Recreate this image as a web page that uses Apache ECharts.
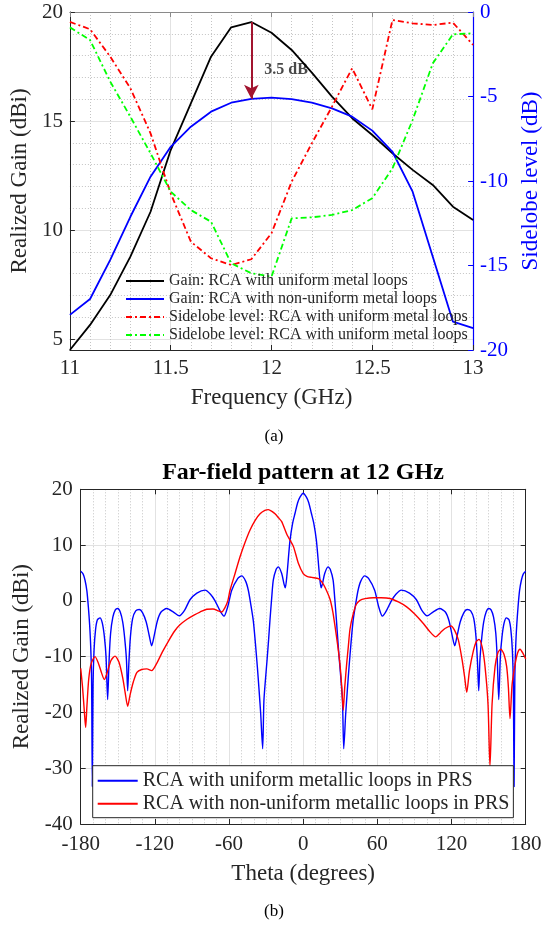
<!DOCTYPE html>
<html>
<head>
<meta charset="utf-8">
<script src="https://cdn.jsdelivr.net/npm/echarts@6/dist/echarts.min.js"></script>
<style>
  html, body { margin: 0; padding: 0; background: #fff; }
  #chart { width: 550px; height: 927px; }
</style>
</head>
<body>
<div id="chart"></div>
<script>
// ---- (a) realized gain and sidelobe level versus frequency ----
const freqGHz = [11, 11.1, 11.2, 11.3, 11.4, 11.5, 11.6, 11.7, 11.8, 11.9, 12,
                 12.1, 12.2, 12.3, 12.4, 12.5, 12.6, 12.7, 12.8, 12.9, 13];
const gainUniform = [4.5, 5.65, 7.02, 8.78, 10.84, 13.67, 15.81, 17.95, 19.30, 19.54, 19.05,
                     18.26, 17.22, 16.12, 15.13, 14.36, 13.52, 12.76, 12.07, 11.07, 10.46];
const gainNonUniform = [6.11, 6.84, 8.63, 10.61, 12.45, 13.82, 14.74, 15.43, 15.84, 16.02, 16.07,
                        16.0, 15.84, 15.58, 15.20, 14.56, 13.59, 11.76, 8.78, 5.80, 5.50];
const sidelobeRed = [-0.59, -1.02, -2.64, -4.51, -7.18, -10.73, -13.59, -14.57, -14.97, -14.63, -13.09,
                     -10.04, -7.77, -5.60, -3.33, -5.76, -0.47, -0.67, -0.77, -0.63, -1.95];
const sidelobeGreen = [-0.91, -1.66, -4.12, -6.20, -8.36, -10.63, -11.72, -12.41, -14.87, -15.46, -15.66,
                       -12.21, -12.15, -12.01, -11.72, -11.02, -9.25, -6.39, -3.04, -1.32, -1.26];
const arrowIndex = 9; // 11.9 GHz, where the gain drop is marked

// ---- (b) far-field pattern at 12 GHz ----
const thetaUniform = [-180, -178, -176.5, -175, -173.8, -172.8, -171.9, -171.2, -170.6, -170, -169.2, -168, -166.5,
  -164.4, -162.5, -160.8, -159.5, -158.2, -157, -155.8, -154, -152, -150.1, -148, -146, -144.5, -143, -142,
  -141, -139.8, -138, -135.5, -132.6, -130, -127, -124.5, -122.6, -120.5, -118, -115, -110.4, -105, -100.2,
  -96, -91.6, -86, -79.4, -75, -71.3, -67, -64.1, -61, -57.8, -53, -49.8, -46.5, -44.4, -42.5, -40.4, -38.7,
  -37.1, -35.7, -34.4, -32.8, -31.8, -30.5, -29.2, -28, -26.9, -25.5, -24.2, -22, -20.1, -17.4, -15.5, -14.5,
  -13.2, -10.7, -8.5, -6.6, -4.5, -2.6, 0,
  2.6, 4.5, 6.6, 8.5, 10.7, 13.2, 14.5, 15.5, 17.4, 20.1, 22, 24.2, 25.5, 26.9, 28, 29.2, 30.5, 31.8, 32.8,
  34.4, 35.7, 37.1, 38.7, 40.4, 42.5, 44.4, 46.5, 49.8, 53, 57.8, 61, 64.1, 67, 71.3, 75, 79.4, 86, 91.6, 96,
  100.2, 105, 110.4, 115, 118, 120.5, 122.6, 124.5, 127, 130, 132.6, 135.5, 138, 139.8, 141, 142, 143, 144.5,
  146, 148, 150.1, 152, 154, 155.8, 157, 158.2, 159.5, 160.8, 162.5, 164.4, 166.5, 168, 169.2, 170, 170.6,
  171.2, 171.9, 172.8, 173.8, 175, 176.5, 178, 180];
const patternUniform = [5.3, 4.8, 3.7, 1.8, -1.1, -4.2, -8.2, -14, -33.3, -15, -8.8, -5.2, -3.4,
  -3.05, -4.0, -6.5, -10, -17.7, -10.5, -5.8, -2.9, -1.6, -1.37, -2.0, -3.8, -6.5, -10.5, -16.1,
  -11, -6.5, -3.2, -1.8, -1.55, -2.1, -3.8, -6.3, -8.06, -6.2, -3.6, -2.0, -1.37, -2.0, -2.68,
  -1.7, 0.2, 1.4, 1.92, 1.2, 0.0, -1.9, -2.74, -1.0, 1.9, 4.0, 4.48, 3.5, 1.9, -0.5, -3.5, -7.5,
  -11.8, -16, -20.2, -26.5, -18, -14, -10.5, -7, -3.5, 0.5, 3.7, 5.6, 6.1, 4.9, 3.0, 2.33,
  4.5, 10.8, 14.0, 15.7, 17.6, 18.6, 19.3,
  18.6, 17.6, 15.7, 14.0, 10.8, 4.5, 2.33, 3.0, 4.9, 6.1, 5.6, 3.7, 0.5, -3.5, -7, -10.5, -14, -18, -26.5,
  -20.2, -16, -11.8, -7.5, -3.5, -0.5, 1.9, 3.5, 4.48, 4.0, 1.9, -1.0, -2.74, -1.9, 0.0, 1.2, 1.92, 1.4, 0.2, -1.7,
  -2.68, -2.0, -1.37, -2.0, -3.6, -6.2, -8.06, -6.3, -3.8, -2.1, -1.55, -1.8, -3.2, -6.5, -11, -16.1, -10.5, -6.5,
  -3.8, -2.0, -1.37, -1.6, -2.9, -5.8, -10.5, -17.7, -10, -6.5, -4.0, -3.05, -3.4, -5.2, -8.8, -15, -33.3,
  -14, -8.2, -4.2, -1.1, 1.8, 3.7, 4.8, 5.3];

const thetaNonUniform = [-180, -178.5, -177, -176, -175, -173.5, -171.5, -168.4, -165.5, -163, -160.9, -158.5,
  -155.5, -152.2, -149, -146, -144, -142, -140, -137.4, -134.5, -130.7, -126.5, -122.6, -118.5, -114, -109,
  -104, -99.7, -94, -88, -83.5, -78, -73, -68.5, -66, -63.5, -61, -59.2, -55, -51.1, -47, -43, -39, -34.9,
  -31, -28.2, -25, -22.8, -20, -17.4, -13, -8, -4, 0, 3, 6.9, 12.3, 15, 17.7, 21.7, 24, 25.7, 27.8, 29.8,
  31.2, 32.4, 33.6, 35.2, 36.5, 37.9, 40.5, 43, 45.9, 50, 56.7, 63, 70.2, 77, 83.7, 90, 97.2, 102, 107.2,
  111, 114.7, 119.6, 122.5, 125.5, 128.5, 130.5, 132.3, 134.5, 137.6, 140, 142.2, 144.8, 147.1, 149.5, 151.1,
  152.8, 155.2, 157.5, 159.8, 162.5, 164.6, 166, 167.3, 169, 171.3, 173.5, 175.4, 178, 180];
const patternNonUniform = [-12.1, -15.5, -20, -22.7, -19, -14, -11.2, -10.0, -11.3, -13, -14.1, -12.8,
  -10.7, -9.9, -11, -13.8, -16.5, -18.9, -16.8, -14.5, -12.8, -12.3, -12.2, -12.5, -11.2, -9.2, -7.2,
  -5.4, -4.3, -3.3, -2.5, -2.0, -1.5, -1.45, -1.8, -2.0, -1.3, 0.0, 1.9, 5.0, 7.9, 10.5, 12.7, 14.4, 15.6,
  16.2, 16.35, 16.0, 15.6, 14.9, 14.2, 11.8, 9.8, 6.8, 4.9, 4.4, 4.2, 4.0, 3.4, 2.4, 0.3, -2.0, -4.5, -7.8, -11.5,
  -15.5, -19.6, -15.5, -11.2, -8.2, -5.0, -2.3, -0.6, 0.1, 0.4, 0.55, 0.55, 0.43, -0.2, -1.07, -2.3, -4.05, -5.4, -6.45,
  -5.7, -4.95, -4.5, -5.3, -7.0, -10.5, -13.5, -16.4, -12.5, -9.0, -7.3, -6.9, -8.3, -11.8, -18.5, -29.7,
  -18.5, -11.8, -9.3, -8.66, -9.6, -11.8, -15.5, -21.1, -15, -11.5, -9.3, -8.66, -9.5, -10.4];

const zip = (xs, ys) => xs.map((x, i) => [x, ys[i]]);

const SERIF = '"Liberation Serif", "Times New Roman", serif';
const INK = '#262626';
const MAJOR_GRID = '#e2e2e2';
const MINOR_GRID = '#c4c4c4';

const legendNames = [
  'Gain: RCA with uniform metal loops',
  'Gain: RCA with non-uniform metal loops',
  'Sidelobe level: RCA with uniform metal loops',
  'Sidelobe level: RCA with uniform metal loops\u200B'
];
const patternNames = [
  'RCA with uniform metallic loops in PRS',
  'RCA with non-uniform metallic loops in PRS'
];

const arrowTop = gainUniform[arrowIndex];
const arrowBottom = gainNonUniform[arrowIndex];

// Plain box edge used to close the plot frames (top / right sides).
function frameAxis(extra) {
  return Object.assign({
    type: 'value',
    axisLine: { show: true, onZero: false, lineStyle: { color: INK, width: 1 } },
    axisTick: { show: true, inside: true, length: 5, lineStyle: { color: INK } },
    axisLabel: { show: false },
    splitLine: { show: false }
  }, extra);
}

const chart = echarts.init(document.getElementById('chart'), null, { renderer: 'canvas' });

chart.setOption({
  animation: false,
  backgroundColor: '#fff',
  textStyle: { fontFamily: SERIF },
  grid: [
    { left: 61, top: 12, width: 425, height: 338 },
    { left: 80.7, top: 489.3, width: 445, height: 334.7 }
  ],
  xAxis: [
    {
      gridIndex: 0, type: 'value', min: 11, max: 13, interval: 0.5,
      axisLine: { onZero: false, lineStyle: { color: INK } },
      axisTick: { inside: true, length: 5, lineStyle: { color: INK } },
      axisLabel: { fontSize: 21, color: INK, fontFamily: SERIF, margin: 8 },
      name: 'Frequency (GHz)', nameLocation: 'middle', nameGap: 36,
      nameTextStyle: { fontSize: 23, color: INK, fontFamily: SERIF },
      splitLine: { show: true, lineStyle: { color: MAJOR_GRID } },
      minorTick: { show: false, splitNumber: 5 },
      minorSplitLine: { show: true, lineStyle: { color: MINOR_GRID, type: [1, 2] } }
    },
    frameAxis({ gridIndex: 0, position: 'top', min: 11, max: 13, interval: 0.5,
      axisLine: { show: true, onZero: false, lineStyle: { color: '#8a8a8a', width: 1 } },
      axisTick: { show: true, inside: true, length: 5, lineStyle: { color: '#8a8a8a' } } }),
    {
      gridIndex: 1, type: 'value', min: -180, max: 180, interval: 60,
      axisLine: { onZero: false, lineStyle: { color: INK } },
      axisTick: { inside: true, length: 5, lineStyle: { color: INK } },
      axisLabel: { fontSize: 21, color: INK, fontFamily: SERIF, margin: 10 },
      name: 'Theta (degrees)', nameLocation: 'middle', nameGap: 38,
      nameTextStyle: { fontSize: 23, color: INK, fontFamily: SERIF },
      splitLine: { show: true, lineStyle: { color: MAJOR_GRID } },
      minorTick: { show: false, splitNumber: 6 },
      minorSplitLine: { show: true, lineStyle: { color: MINOR_GRID, type: [1, 2] } }
    },
    frameAxis({ gridIndex: 1, position: 'top', min: -180, max: 180, interval: 60 })
  ],
  yAxis: [
    {
      gridIndex: 0, type: 'value', min: 4.5, max: 20, splitNumber: 3,
      axisLine: { show: true, onZero: false, lineStyle: { color: INK } },
      axisTick: { show: true, inside: true, length: 5, lineStyle: { color: INK } },
      axisLabel: { fontSize: 21, color: INK, fontFamily: SERIF, margin: 7, showMinLabel: false },
      name: 'Realized Gain (dBi)', nameLocation: 'middle', nameGap: 33, nameRotate: 90,
      nameTextStyle: { fontSize: 23, color: INK, fontFamily: SERIF },
      splitLine: { show: true, lineStyle: { color: MAJOR_GRID } },
      minorTick: { show: false, splitNumber: 5 },
      minorSplitLine: { show: true, lineStyle: { color: MINOR_GRID, type: [1, 2] } }
    },
    {
      gridIndex: 0, type: 'value', position: 'right', min: -20, max: 0, interval: 5,
      axisLine: { show: true, onZero: false, lineStyle: { color: '#0000ff', width: 1.2 } },
      axisTick: { show: true, inside: true, length: 5, lineStyle: { color: '#0000ff' } },
      axisLabel: { fontSize: 21, color: '#0000ff', fontFamily: SERIF, margin: 7 },
      name: 'Sidelobe level (dB)', nameLocation: 'middle', nameGap: 42, nameRotate: 90,
      nameTextStyle: { fontSize: 23, color: '#0000ff', fontFamily: SERIF },
      splitLine: { show: false }
    },
    {
      gridIndex: 1, type: 'value', min: -40, max: 20, interval: 10,
      axisLine: { show: true, onZero: false, lineStyle: { color: INK } },
      axisTick: { show: true, inside: true, length: 5, lineStyle: { color: INK } },
      axisLabel: { fontSize: 21, color: INK, fontFamily: SERIF, margin: 8 },
      name: 'Realized Gain (dBi)', nameLocation: 'middle', nameGap: 42, nameRotate: 90,
      nameTextStyle: { fontSize: 23, color: INK, fontFamily: SERIF },
      splitLine: { show: true, lineStyle: { color: MAJOR_GRID } }
    },
    frameAxis({ gridIndex: 1, position: 'right', min: -40, max: 20, interval: 10 })
  ],
  legend: [
    {
      data: legendNames, orient: 'vertical', left: 125, top: 273,
      itemWidth: 38, itemHeight: 14, itemGap: 2, padding: 0,
      itemStyle: { opacity: 0 },
      textStyle: { fontSize: 16, color: INK, fontFamily: SERIF },
      selectedMode: false
    },
    {
      data: patternNames, orient: 'vertical', left: 92.7, top: 765.7,
      itemWidth: 40, itemHeight: 16, itemGap: 3, padding: [5, 4, 4, 4],
      itemStyle: { opacity: 0 },
      backgroundColor: '#fff', borderColor: INK, borderWidth: 1,
      textStyle: { fontSize: 20, color: INK, fontFamily: SERIF },
      selectedMode: false
    }
  ],
  graphic: [
    { type: 'text', x: 303, y: 473, style: { text: 'Far-field pattern at 12 GHz', fontSize: 24, fontWeight: 'bold',
      fontFamily: SERIF, fill: '#000', align: 'center', verticalAlign: 'middle' } },
    { type: 'text', x: 274, y: 437, style: { text: '(a)', fontSize: 17, fontFamily: SERIF, fill: '#000',
      align: 'center', verticalAlign: 'middle' } },
    { type: 'text', x: 274, y: 912, style: { text: '(b)', fontSize: 17, fontFamily: SERIF, fill: '#000',
      align: 'center', verticalAlign: 'middle' } }
  ],
  series: [
    {
      name: legendNames[0], type: 'line', xAxisIndex: 0, yAxisIndex: 0, symbol: 'none',
      data: zip(freqGHz, gainUniform), lineStyle: { color: '#000', width: 1.8 }, itemStyle: { color: '#000' },
      markLine: {
        silent: true, symbol: ['none', 'arrow'], symbolSize: [11, 14],
        lineStyle: { color: '#a2142f', width: 2, type: 'solid' },
        label: { show: false },
        data: [[{ coord: [freqGHz[arrowIndex], arrowTop] }, { coord: [freqGHz[arrowIndex], arrowBottom] }]]
      }
    },
    {
      name: legendNames[1], type: 'line', xAxisIndex: 0, yAxisIndex: 0, symbol: 'none',
      data: zip(freqGHz, gainNonUniform), lineStyle: { color: '#0000ff', width: 1.8 }, itemStyle: { color: '#0000ff' }
    },
    {
      name: legendNames[2], type: 'line', xAxisIndex: 0, yAxisIndex: 1, symbol: 'none',
      data: zip(freqGHz, sidelobeRed), lineStyle: { color: '#ff0000', width: 1.8, type: [6, 3, 2, 3] },
      itemStyle: { color: '#ff0000' }
    },
    {
      name: legendNames[3], type: 'line', xAxisIndex: 0, yAxisIndex: 1, symbol: 'none',
      data: zip(freqGHz, sidelobeGreen), lineStyle: { color: '#00ff00', width: 1.8, type: [6, 3, 2, 3] },
      itemStyle: { color: '#00ff00' }
    },
    {
      name: 'gainDrop', type: 'scatter', xAxisIndex: 0, yAxisIndex: 0, symbolSize: 0, silent: true,
      data: [[freqGHz[arrowIndex], (arrowTop + arrowBottom) / 2]],
      label: {
        show: true, position: 'right', offset: [8, 9],
        formatter: () => (arrowTop - arrowBottom).toFixed(1) + ' dB',
        fontSize: 16, fontWeight: 'bold', fontFamily: SERIF, color: '#1a1a1a'
      }
    },
    {
      name: patternNames[0], type: 'line', xAxisIndex: 2, yAxisIndex: 2, symbol: 'none', smooth: 0.25,
      data: zip(thetaUniform, patternUniform), lineStyle: { color: '#0000ff', width: 1.4 }, itemStyle: { color: '#0000ff' }
    },
    {
      name: patternNames[1], type: 'line', xAxisIndex: 2, yAxisIndex: 2, symbol: 'none', smooth: 0.25,
      data: zip(thetaNonUniform, patternNonUniform), lineStyle: { color: '#ff0000', width: 1.4 }, itemStyle: { color: '#ff0000' }
    }
  ]
});
</script>
</body>
</html>
